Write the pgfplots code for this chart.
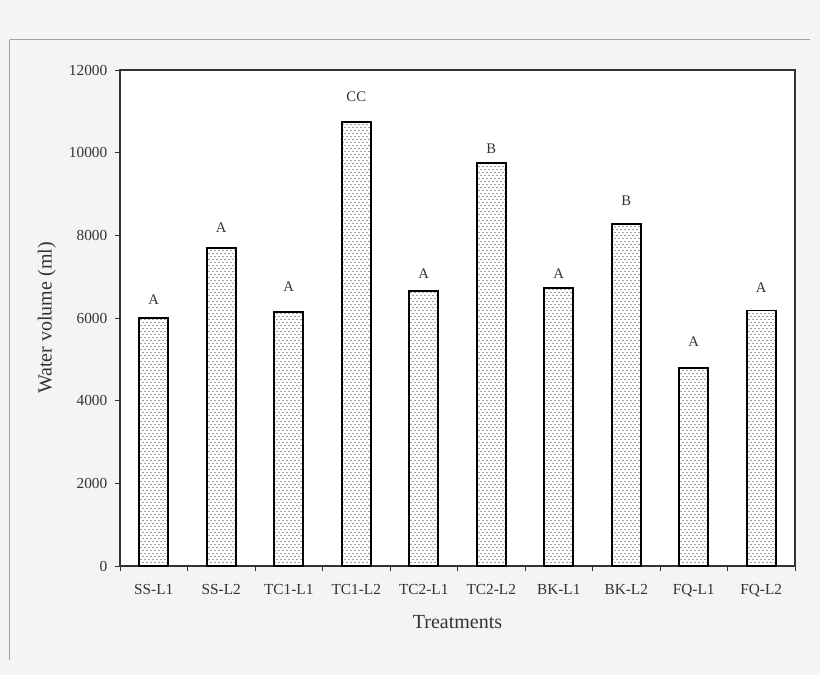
\documentclass[border=0pt]{standalone}
\usepackage{fontspec}
\setmainfont{Liberation Serif}
\usepackage{pgfplots}
\pgfplotsset{compat=1.18}
\usetikzlibrary{patterns.meta}
\definecolor{bgcol}{HTML}{F4F4F4}
\definecolor{txt}{HTML}{333333}
\definecolor{framegray}{HTML}{A0A0A0}

% staggered dot fill of the bars
\pgfdeclarepattern{
  name=sparsedots,
  type=uncolored,
  bottom left={\pgfpoint{-0.1pt}{-0.1pt}},
  top right={\pgfpoint{3.1pt}{4.6pt}},
  tile size={\pgfpoint{3pt}{4.5pt}},
  code={
    \pgfpathcircle{\pgfpoint{0.75pt}{1.125pt}}{0.42pt}
    \pgfpathcircle{\pgfpoint{2.25pt}{3.375pt}}{0.42pt}
    \pgfusepath{fill}
  }
}

\pgfplotstableread{
x y
0 6000
1 7700
2 6150
3 10750
4 6650
5 9750
6 6730
7 8280
8 4800
9 6180
}\bars

% letter labels, y = centre of the letter
\pgfplotstableread{
x y lab
0 6435 A
1 8177 A
2 6750 A
3 11347 CC
4 7065 A
5 10089 B
6 7065 A
7 8831 B
8 5419 A
9 6726 A
}\letters

\begin{document}
\begin{tikzpicture}[x=0.75pt,y=0.75pt]
  % page background and the thin frame lines (1px = 0.75pt)
  \fill[bgcol] (-120,-109) rectangle (700,566);
  \draw[framegray, line width=0.75pt] (-110,526) -- (690,526);
  \draw[framegray, line width=0.75pt] (-110,526) -- (-110,-94);
  \begin{axis}[
    at={(0,0)}, anchor=south west,
    scale only axis, width=506.25pt, height=372pt,
    axis background/.style={fill=white},
    axis line style={txt, line width=1.1pt},
    xmin=-0.5, xmax=9.5, ymin=0, ymax=12000,
    xtick={0,...,9},
    xticklabels={SS-L1,SS-L2,TC1-L1,TC1-L2,TC2-L1,TC2-L2,BK-L1,BK-L2,FQ-L1,FQ-L2},
    major x tick style={draw=none},
    minor xtick={-0.5,0.5,...,9.5},
    minor x tick style={txt, line width=0.5pt},
    minor tick length=4pt,
    ytick={0,2000,...,12000},
    major y tick style={txt, line width=0.5pt},
    major tick length=4pt,
    tick align=outside,
    xtick pos=bottom, ytick pos=left,
    scaled y ticks=false,
    /pgf/number format/assume math mode=true,
    yticklabel={\pgfmathprintnumber[fixed,1000 sep={}]{\tick}},
    tick label style={txt},
    xticklabel style={font=\fontsize{11.5}{13}\selectfont, yshift=-6pt},
    yticklabel style={font=\fontsize{11.5}{13}\selectfont, xshift=-2pt},
    xlabel={Treatments},
    ylabel={Water volume (ml)},
    label style={txt, font=\fontsize{15}{17}\selectfont},
    xlabel style={yshift=-7.5pt},
    ylabel style={yshift=3pt},
    clip=false,
  ]
    \addplot[ybar, bar width=21.75pt, bar shift=0pt, draw=black, line width=1.4pt,
      pattern={sparsedots}, pattern color=black!75] table[x=x,y=y] {\bars};
    \addplot[only marks, mark=none, point meta=explicit symbolic,
      nodes near coords, nodes near coords align=center,
      every node near coord/.style={txt, font=\fontsize{11}{13}\selectfont}]
      table[x=x,y=y,meta=lab] {\letters};
  \end{axis}
\end{tikzpicture}
\end{document}
